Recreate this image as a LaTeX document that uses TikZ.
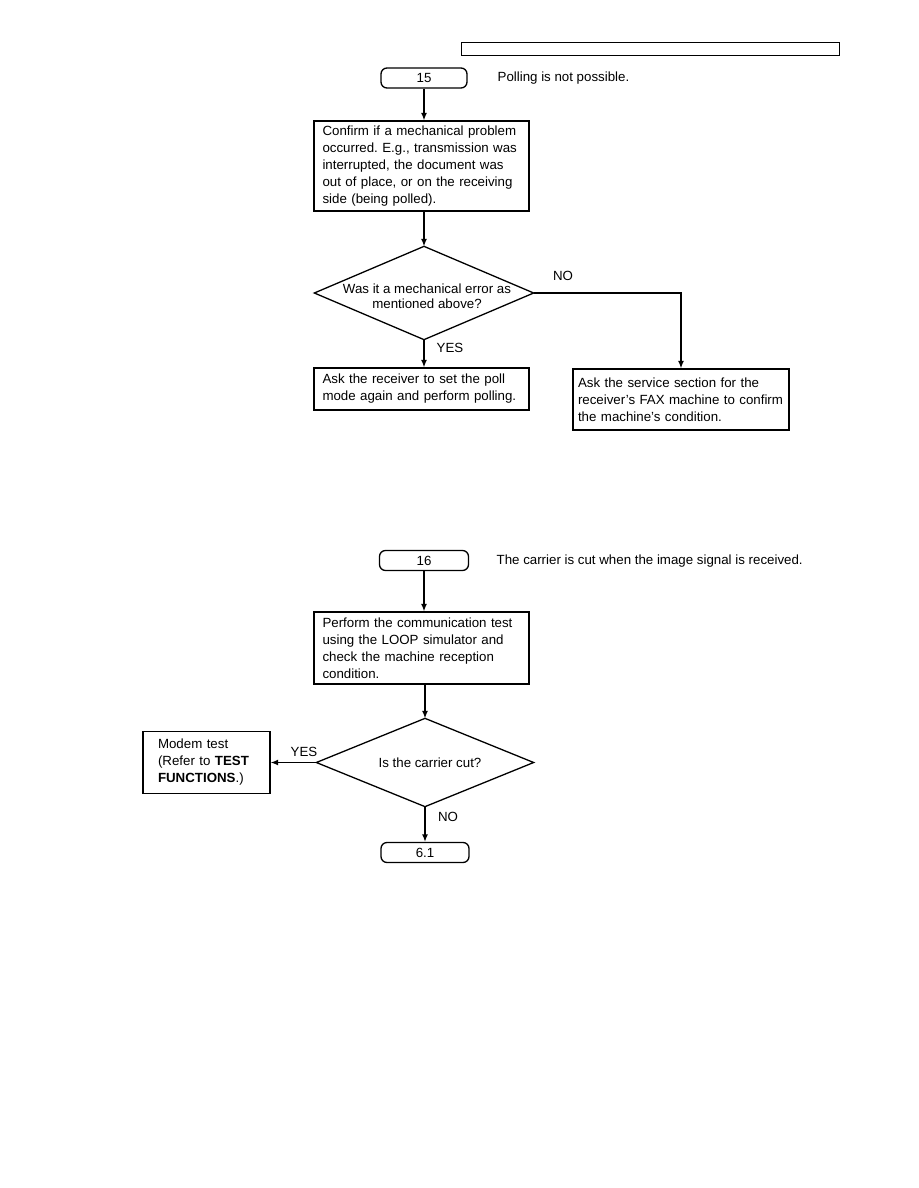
\documentclass[tikz,border=0pt]{standalone}
\usepackage{fontspec}
\setmainfont{Liberation Sans}
\usetikzlibrary{arrows.meta}
\begin{document}
\frenchspacing
\begin{tikzpicture}[x=1pt,y=-1pt,
  font=\fontsize{13.3}{17}\selectfont,
  line width=1.3pt,
  arr/.style={-{Latex[length=7.5pt,width=6pt]}},
  term/.style={draw, rounded corners=6pt, minimum height=20pt, inner sep=0pt},
  stepbox/.style={draw, align=left, inner xsep=8.5pt, inner ysep=0pt},
  dia/.style={inner sep=0pt, align=center},
  lbl/.style={inner sep=0pt}
]
\useasboundingbox (0,0) rectangle (918,1188);
% header bar
\node[draw, line width=1pt, minimum width=378pt, minimum height=13pt, inner sep=0pt] (hdr) at (650,49.5) {};

% ---- chart 15
\node[term, minimum width=86pt] (t15) at (424,78) {15};
\node[lbl, anchor=west] (c15) at (497,78) {Polling is not possible.};
\node[stepbox, text width=198pt, minimum height=90pt] (b1) at (421.5,166) {Confirm if a mechanical problem\\occurred. E.g., transmission was\\interrupted, the document was\\out of place, or on the receiving\\side (being polled).};
\node[dia, minimum width=218pt, minimum height=92pt] (d1) at (424,293) {};
\node[dia, font=\fontsize{13.3}{15.5}\selectfont] (d1t) at (427,296) {Was it a mechanical error as\\mentioned above?};
\draw (d1.west) -- (d1.north) -- (d1.east) -- (d1.south) -- cycle;
\node[stepbox, text width=198pt, minimum height=42pt] (b2) at (421.5,389) {Ask the receiver to set the poll\\mode again and perform polling.};
\node[stepbox, inner xsep=5pt, text width=206pt, minimum height=61pt] (b3) at (681,399.5) {Ask the service section for the\\receiver's FAX machine to confirm\\the machine's condition.};
\node[lbl] (no1) at (563,276) {NO};
\node[lbl] (yes1) at (450,348) {YES};

\draw[arr] (t15) -- (t15 |- b1.north);
\draw[arr] (b1.south -| d1.north) -- (d1.north);
\draw[arr] (d1.south) -- (d1.south |- b2.north);
\draw[arr] (d1.east) -| (b3.north);

% ---- chart 16
\node[term, minimum width=89pt] (t16) at (424,560.5) {16};
\node[lbl, anchor=west] (c16) at (496,561) {The carrier is cut when the image signal is received.};
\node[stepbox, text width=198pt, minimum height=72pt] (b4) at (421.5,648) {Perform the communication test\\using the LOOP simulator and\\check the machine reception\\condition.};
\node[dia, minimum width=216pt, minimum height=87pt] (d2) at (425,762.5) {};
\node[dia] (d2t) at (430,763) {Is the carrier cut?};
\draw (d2.west) -- (d2.north) -- (d2.east) -- (d2.south) -- cycle;
\node[stepbox, inner xsep=15pt, text width=97pt, minimum height=62pt] (b5) at (206.5,762.5) {Modem test\\(Refer to \textbf{TEST}\\\textbf{FUNCTIONS}.)};
\node[term, minimum width=88pt] (t61) at (425,852.5) {6.1};
\node[lbl] (yes2) at (304,752) {YES};
\node[lbl] (no2) at (448,817) {NO};

\draw[arr] (t16) -- (t16 |- b4.north);
\draw[arr] (b4.south -| d2.north) -- (d2.north);
\draw[arr] (d2.west) -- (b5.east);
\draw[arr] (d2.south) -- (t61.north);
\end{tikzpicture}
\end{document}
